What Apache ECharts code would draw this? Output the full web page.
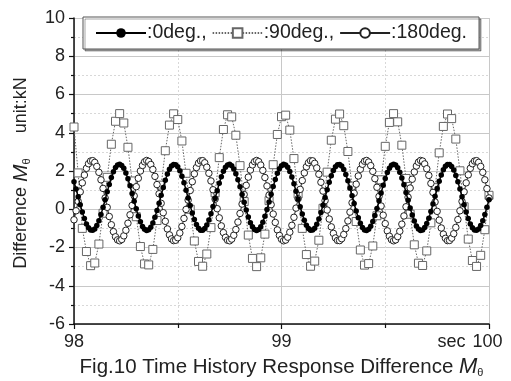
<!DOCTYPE html>
<html>
<head>
<meta charset="utf-8">
<script src="https://cdn.jsdelivr.net/npm/echarts@6/dist/echarts.min.js"></script>
<style>html,body{margin:0;padding:0;background:#fff}#c{width:511px;height:381px}</style>
</head>
<body>
<div id="c"></div>
<script>
// time base
const tStart = 98, tEnd = 100;
const dtFine = 0.01;   // 0deg and 180deg sampling
const dtCoarse = 0.02; // 90deg sampling

const legendNames = [':0deg.,', ':90deg.,', ':180deg.'];
const xUnit = 'sec';

const deg0 = [
1.44,1.06,0.65,0.24,-0.14,-0.49,-0.77,-0.97,-1.09,-1.10,
-1.03,-0.85,-0.60,-0.28,0.10,0.50,0.91,1.30,1.66,1.96,
2.18,2.31,2.35,2.29,2.14,1.90,1.59,1.23,0.83,0.42,
0.02,-0.35,-0.66,-0.90,-1.05,-1.11,-1.07,-0.94,-0.72,-0.42,
-0.07,0.32,0.73,1.14,1.51,1.84,2.09,2.26,2.34,2.33,
2.22,2.01,1.73,1.39,1.00,0.59,0.19,-0.20,-0.53,-0.80,
-0.99,-1.10,-1.10,-1.01,-0.82,-0.56,-0.23,0.15,0.56,0.97,
1.36,1.70,1.99,2.20,2.32,2.35,2.28,2.11,1.86,1.54,
1.17,0.77,0.36,-0.04,-0.40,-0.70,-0.92,-1.06,-1.11,-1.06,
-0.91,-0.68,-0.37,-0.01,0.38,0.79,1.19,1.56,1.88,2.12,
2.28,2.35,2.32,2.19,1.98,1.69,1.33,0.94,0.54,0.13,
-0.25,-0.58,-0.84,-1.01,-1.10,-1.09,-0.99,-0.79,-0.51,-0.17,
0.21,0.62,1.02,1.41,1.75,2.03,2.22,2.33,2.34,2.26,
2.08,1.82,1.49,1.11,0.71,0.30,-0.09,-0.44,-0.73,-0.95,
-1.08,-1.11,-1.04,-0.89,-0.64,-0.33,0.04,0.44,0.85,1.25,
1.61,1.92,2.15,2.30,2.35,2.31,2.17,1.94,1.64,1.28,
0.88,0.47,0.07,-0.30,-0.62,-0.87,-1.03,-1.11,-1.08,-0.96,
-0.75,-0.47,-0.12,0.27,0.68,1.08,1.46,1.79,2.06,2.25,
2.34,2.34,2.24,2.05,1.77,1.44,1.06,0.65,0.24,-0.14,
-0.49,-0.77,-0.97,-1.09,-1.10,-1.03,-0.85,-0.60,-0.27,0.10,
0.50
];

const deg180 = [
-0.55,-0.08,0.41,0.91,1.38,1.79,2.14,2.38,2.52,2.54,
2.45,2.24,1.93,1.54,1.09,0.59,0.10,-0.38,-0.81,-1.17,
-1.44,-1.60,-1.65,-1.58,-1.39,-1.10,-0.73,-0.29,0.20,0.70,
1.18,1.62,2.00,2.29,2.48,2.55,2.50,2.34,2.08,1.72,
1.29,0.81,0.31,-0.18,-0.63,-1.03,-1.34,-1.55,-1.64,-1.62,
-1.49,-1.24,-0.90,-0.48,-0.01,0.48,0.98,1.44,1.85,2.18,
2.41,2.53,2.54,2.43,2.20,1.88,1.48,1.02,0.53,0.03,
-0.45,-0.87,-1.22,-1.47,-1.62,-1.65,-1.56,-1.36,-1.06,-0.67,
-0.22,0.27,0.77,1.25,1.68,2.05,2.32,2.49,2.55,2.49,
2.31,2.03,1.66,1.22,0.74,0.24,-0.25,-0.69,-1.08,-1.37,
-1.57,-1.65,-1.61,-1.46,-1.20,-0.84,-0.42,0.06,0.55,1.04,
1.50,1.90,2.22,2.43,2.54,2.53,2.40,2.16,1.83,1.41,
0.95,0.45,-0.04,-0.51,-0.92,-1.26,-1.50,-1.63,-1.64,-1.54,
-1.32,-1.01,-0.61,-0.15,0.34,0.84,1.31,1.74,2.09,2.35,
2.51,2.55,2.47,2.28,1.98,1.60,1.15,0.67,0.17,-0.31,
-0.75,-1.13,-1.41,-1.59,-1.65,-1.60,-1.43,-1.15,-0.78,-0.35,
0.13,0.63,1.11,1.57,1.95,2.26,2.46,2.55,2.52,2.37,
2.12,1.77,1.35,0.88,0.38,-0.11,-0.57,-0.98,-1.30,-1.52,
-1.64,-1.63,-1.51,-1.28,-0.95,-0.54,-0.08,0.41,0.91,1.38,
1.80,2.14,2.38,2.52,2.54,2.45,2.24,1.93,1.54,1.08,
0.59
];

const deg90 = [
4.30,1.90,-1.00,-2.21,-2.95,-2.81,-1.82,-0.21,1.67,3.40,
4.60,5.00,4.51,3.24,1.48,-0.39,-1.95,-2.86,-2.91,-2.10,
-0.59,1.26,3.06,4.40,4.99,4.69,3.57,1.88,0.00,-1.66,
-2.73,-2.98,-2.34,-0.96,0.86,2.70,4.17,4.94,4.83,3.87,
2.28,0.40,-1.35,-2.57,-3.00,-2.54,-1.30,0.45,2.33,3.91,
4.84,4.92,4.14,2.65,0.80,-1.00,-2.37,-2.98,-2.71,-1.62,
0.05,1.94,3.61,4.71,4.98,4.37,3.02,1.21,-0.64,-2.13,
-2.92,-2.84,-1.92,-0.34,1.54,3.29,4.54,5.00,4.57,3.35,
1.61,-0.26,-1.86,-2.82,-2.94,-2.18,-0.71,1.13,2.95,4.33,
4.98,4.74,3.67,2.01,0.13,-1.56,-2.68,-2.99,-2.41,-1.07,
0.73
];

function pair(arr, dt) {
  return arr.map((v, i) => [+(tStart + i * dt).toFixed(3), v]);
}

const FONT = 'Liberation Sans';
const chart = echarts.init(document.getElementById('c'), null, {renderer: 'canvas'});

chart.setOption({
  animation: false,
  backgroundColor: '#fff',
  textStyle: {fontFamily: FONT},
  grid: {left: 74, right: 22, top: 18, bottom: 57, containLabel: false, outerBoundsMode: 'none'},
  legend: {
    left: 83, top: 17,
    padding: [6, 12, 6, 12],
    itemWidth: 50, itemHeight: 12, itemGap: 5,
    backgroundColor: '#fff',
    borderColor: '#555', borderWidth: 1,
    shadowColor: 'rgba(0,0,0,0.35)', shadowOffsetX: 2, shadowOffsetY: 2, shadowBlur: 0,
    textStyle: {fontFamily: FONT, fontSize: 19.5, color: '#222', padding: [0, 0, 0, -4]},
    data: legendNames
  },
  xAxis: {
    type: 'value', min: tStart, max: tEnd, interval: 1,
    axisLine: {show: true, onZero: false, lineStyle: {color: '#111', width: 1.5}},
    axisTick: {show: true, length: 5, lineStyle: {color: '#111', width: 1.2}},
    minorTick: {show: true, splitNumber: 2, length: 4, lineStyle: {color: '#111', width: 1.2}},
    splitLine: {show: true, lineStyle: {color: '#c8c8c8', width: 1}},
    minorSplitLine: {show: true, lineStyle: {color: '#d8d8d8', width: 1, type: [2, 2]}},
    axisLabel: {
      fontFamily: FONT, fontSize: 18, color: '#222', margin: 9,
      formatter: v => v === tEnd ? '{u|' + xUnit + '}{g|}{n|' + v + '}{p|}' : String(v),
      rich: {
        u: {fontFamily: FONT, fontSize: 18, color: '#222'},
        g: {width: 7},
        n: {fontFamily: FONT, fontSize: 18, color: '#222'},
        p: {width: 38}
      }
    },
    name: '{a|Fig.10 Time History Response Difference }{m|M}{s|θ}',
    nameLocation: 'middle', nameGap: 27,
    nameTextStyle: {
      rich: {
        a: {fontFamily: FONT, fontSize: 20.5, color: '#222'},
        m: {fontFamily: FONT, fontSize: 22, color: '#222', fontStyle: 'italic'},
        s: {fontFamily: FONT, fontSize: 11, color: '#222', padding: [12, 0, 0, 0]}
      }
    }
  },
  yAxis: {
    type: 'value', min: -6, max: 10, interval: 2,
    axisLine: {show: true, onZero: false, lineStyle: {color: '#111', width: 1.5}},
    axisTick: {show: true, length: 5, lineStyle: {color: '#111', width: 1.2}},
    minorTick: {show: true, splitNumber: 2, length: 3, lineStyle: {color: '#111', width: 1.2}},
    splitLine: {show: true, lineStyle: {color: '#c8c8c8', width: 1}},
    minorSplitLine: {show: true, lineStyle: {color: '#d8d8d8', width: 1, type: [2, 2]}},
    axisLabel: {fontFamily: FONT, fontSize: 18, color: '#222', margin: 9},
    name: '{a|Difference }{m|M}{s|θ}{a|     unit:kN}',
    nameLocation: 'middle', nameGap: 42, nameRotate: 90,
    nameTextStyle: {
      padding: [0, 4, 0, 0],
      rich: {
        a: {fontFamily: FONT, fontSize: 18, color: '#222'},
        m: {fontFamily: FONT, fontSize: 21, color: '#222', fontStyle: 'italic'},
        s: {fontFamily: FONT, fontSize: 11, color: '#222', padding: [11, 0, 0, 0]}
      }
    }
  },
  series: [
    {
      name: legendNames[1], type: 'line', data: pair(deg90, dtCoarse),
      showAllSymbol: true, symbol: 'rect', symbolSize: 8, z: 2,
      lineStyle: {color: '#666', width: 1, type: [1.5, 1.5]},
      itemStyle: {color: '#fff', borderColor: '#666', borderWidth: 1}
    },
    {
      name: legendNames[2], type: 'line', data: pair(deg180, dtFine),
      showAllSymbol: true, symbol: 'circle', symbolSize: 6.5, z: 3,
      lineStyle: {color: '#222', width: 1},
      itemStyle: {color: '#fff', borderColor: '#222', borderWidth: 1}
    },
    {
      name: legendNames[0], type: 'line', data: pair(deg0, dtFine),
      showAllSymbol: true, symbol: 'circle', symbolSize: 5.5, z: 4,
      lineStyle: {color: '#000', width: 1.5},
      itemStyle: {color: '#000', borderColor: '#000', borderWidth: 0}
    }
  ]
});
</script>
</body>
</html>
